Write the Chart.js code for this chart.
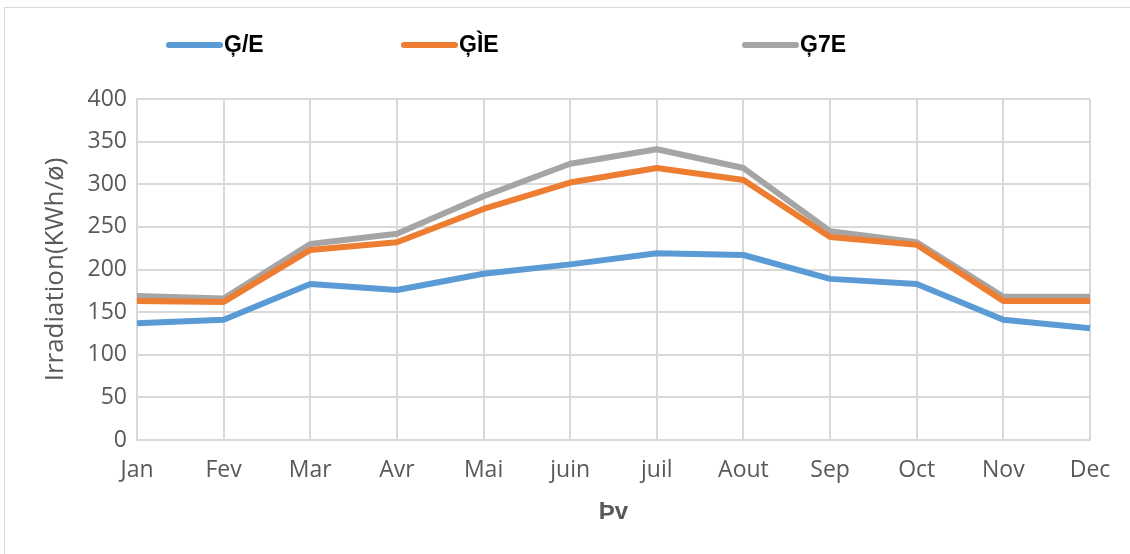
<!DOCTYPE html>
<html>
<head>
<meta charset="utf-8">
<script src="https://cdn.jsdelivr.net/npm/chart.js@4"></script>
<style>
  html, body { margin: 0; padding: 0; background: #fff; }
  #wrap { position: relative; width: 1130px; height: 554px; overflow: hidden; }
  #frame { position: absolute; left: 4px; top: 7px; width: 1140px; height: 560px; border: 1px solid #d9d9d9; box-sizing: border-box; }
  canvas { position: absolute; left: 0; top: 0; }
</style>
</head>
<body>
<div id="wrap">
  <div id="frame"></div>
  <canvas id="line" width="1130" height="554"></canvas>
</div>
<script>
const months = ['Jan', 'Fev', 'Mar', 'Avr', 'Mai', 'juin', 'juil', 'Aout', 'Sep', 'Oct', 'Nov', 'Dec'];
const seriesNames = ['Ģ/E', 'ĢÌE', 'Ģ7E'];
const serieA = [137, 141, 183, 176, 195, 206, 219, 217, 189, 183, 141, 131];
const serieB = [163, 162, 223, 232, 271, 302, 319, 305, 238, 229, 163, 163];
const serieC = [169, 166, 230, 242, 286, 324, 341, 319, 245, 232, 168, 168];
const colors = ['#5b9bd5', '#ed7d31', '#a5a5a5'];
const legendX = [167, 402, 743];

const greyText = '#595959';
const tickFont = { family: 'Open Sans', size: 23 };

// legend drawn at the spots used in the original
const freeLegend = {
    id: 'freeLegend',
    afterDraw(chart) {
        const c = chart.ctx;
        c.save();
        chart.data.datasets.forEach((ds, i) => {
            const x = legendX[i];
            c.strokeStyle = ds.borderColor;
            c.lineWidth = 6;
            c.lineCap = 'round';
            c.beginPath();
            c.moveTo(x + 2, 45);
            c.lineTo(x + 53, 45);
            c.stroke();
            c.fillStyle = '#000';
            c.font = 'bold 23px "Liberation Sans"';
            c.textBaseline = 'middle';
            c.fillText(ds.label, x + 57, 46);
        });
        c.restore();
    }
};

const ctx = document.getElementById('line').getContext('2d');
const lineChart = new Chart(ctx, {
    type: 'line',
    data: {
        labels: months,
        datasets: [
            { label: seriesNames[0], data: serieA, borderColor: colors[0] },
            { label: seriesNames[1], data: serieB, borderColor: colors[1] },
            { label: seriesNames[2], data: serieC, borderColor: colors[2] }
        ].map(d => Object.assign(d, {
            borderWidth: 6,
            pointRadius: 0,
            fill: false,
            tension: 0,
            borderJoinStyle: 'round'
        }))
    },
    options: {
        responsive: false,
        animation: false,
        layout: { padding: { left: 0, right: 40, top: 99, bottom: 0 } },
        plugins: { legend: { display: false }, tooltip: { enabled: false } },
        scales: {
            x: {
                offset: false,
                grid: { color: '#d9d9d9', lineWidth: 2, drawTicks: false },
                border: { color: '#d9d9d9', width: 2 },
                ticks: { color: greyText, font: tickFont, padding: 17, maxRotation: 0 },
                title: {
                    display: true, text: 'Þv', color: greyText,
                    font: { family: 'Liberation Sans', size: 24, weight: 'bold' },
                    padding: { top: 0, bottom: 27 }
                },
                afterFit(scale) { scale.height = 114; }
            },
            y: {
                min: 0, max: 400,
                grid: { color: '#d9d9d9', lineWidth: 2, drawTicks: false },
                border: { color: '#d9d9d9', width: 2 },
                ticks: { stepSize: 50, color: greyText, font: tickFont, padding: 10 },
                title: {
                    display: true, text: 'Irradiation(KWh/ø)', color: greyText,
                    font: { family: 'Open Sans', size: 26 },
                    padding: { top: 40, bottom: 0 }
                },
                afterFit(scale) { scale.width = 137; }
            }
        }
    },
    plugins: [freeLegend]
});
</script>
</body>
</html>
